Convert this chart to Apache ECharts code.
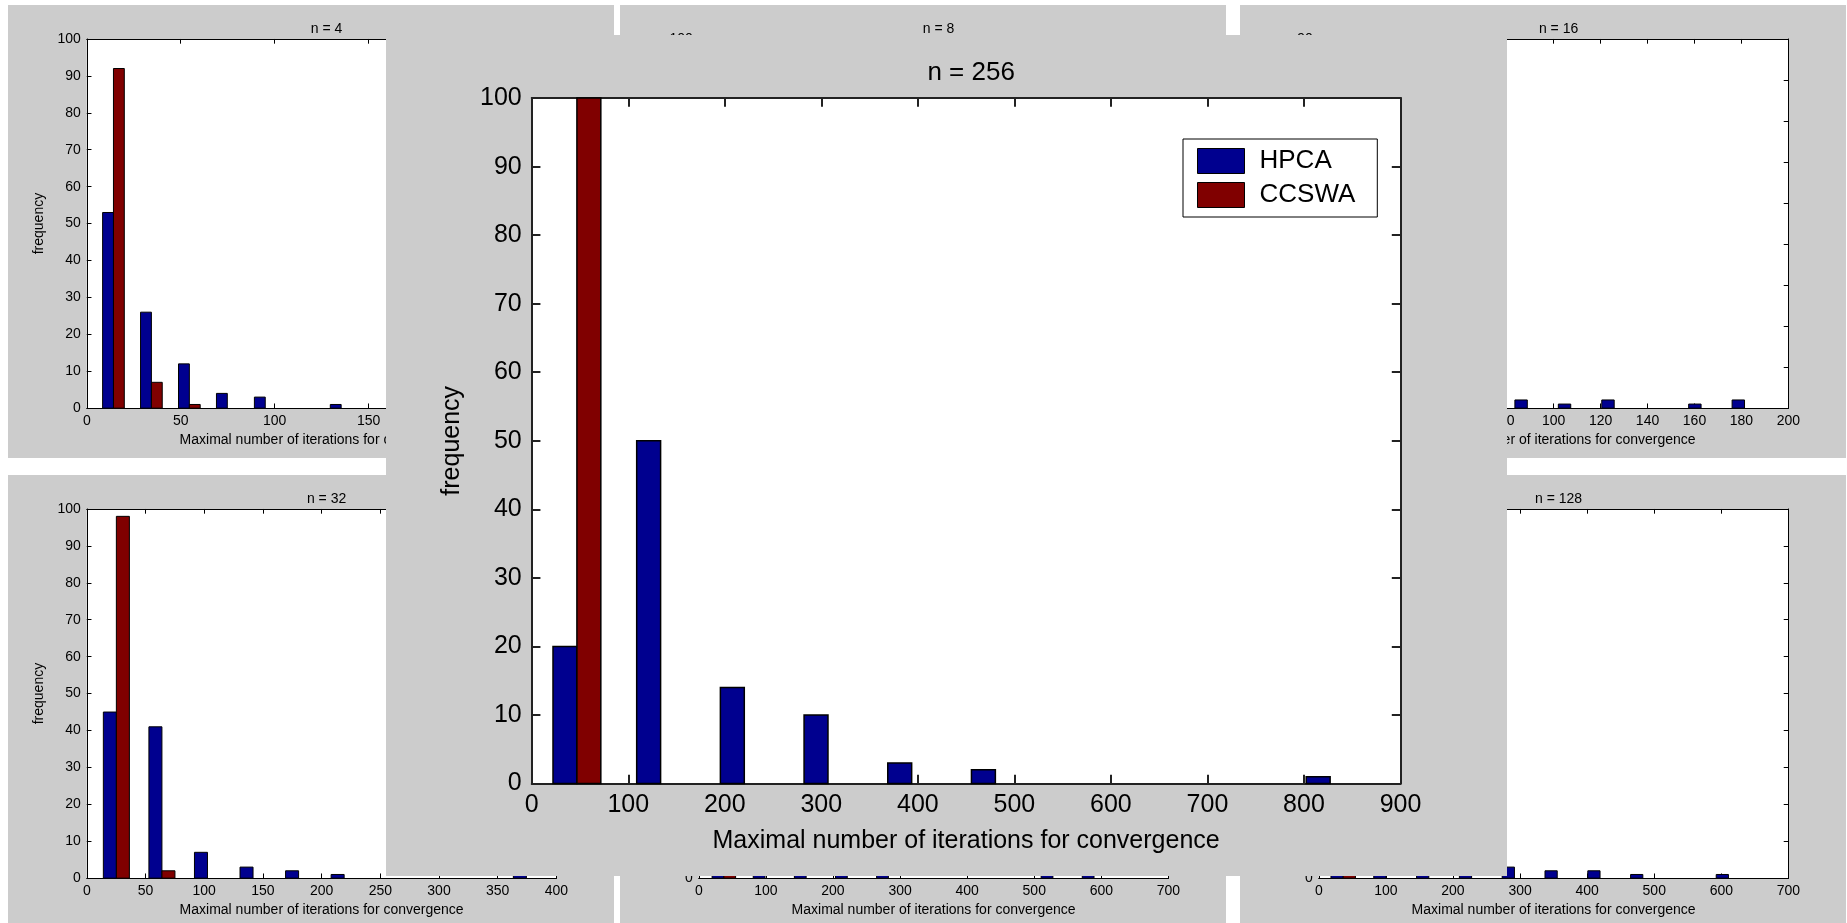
<!DOCTYPE html>
<html>
<head>
<meta charset="utf-8">
<script src="https://cdn.jsdelivr.net/npm/echarts@6/dist/echarts.min.js"></script>
<style>
  html, body { margin: 0; padding: 0; background: #ffffff; width: 1847px; height: 923px; overflow: hidden; }
  .fig { position: absolute; background: #cccccc; }
</style>
</head>
<body>
<div id="f4"   class="fig" style="left:8px;top:5px;width:606px;height:453px;"></div>
<div id="f8"   class="fig" style="left:620px;top:5px;width:606px;height:453px;"></div>
<div id="f16"  class="fig" style="left:1240px;top:5px;width:606px;height:453px;"></div>
<div id="f32"  class="fig" style="left:8px;top:475px;width:606px;height:453px;"></div>
<div id="f64"  class="fig" style="left:620px;top:475px;width:606px;height:453px;"></div>
<div id="f128" class="fig" style="left:1240px;top:475px;width:606px;height:453px;"></div>
<div id="f256" class="fig" style="left:386px;top:35px;width:1121px;height:841px;z-index:2;"></div>
<script>
// Histogram bin centres and counts (100 runs per problem size n)
const seriesNames = ['HPCA', 'CCSWA'];
const xAxisName = 'Maximal number of iterations for convergence';
const yAxisName = 'frequency';

const n4Centers = [14.2, 34.4, 54.6, 74.8, 95.0, 115.2, 135.4, 155.6, 175.8, 196.0];
const n4Hpca    = [53, 26, 12, 4, 3, 0, 1, 0, 0, 1];
const n4Ccswa   = [92, 7, 1, 0, 0, 0, 0, 0, 0, 0];

const n8Centers = [16, 45, 74, 103, 132, 161, 190, 219, 248, 277];
const n8Hpca    = [48, 30, 11, 5, 3, 1, 1, 0, 0, 1];
const n8Ccswa   = [96, 4, 0, 0, 0, 0, 0, 0, 0, 0];

const n16Centers = [14.8, 33.3, 51.8, 70.3, 88.8, 107.3, 125.8, 144.3, 162.8, 181.3];
const n16Hpca    = [40, 33, 14, 5, 2, 1, 2, 0, 1, 2];
const n16Ccswa   = [86, 14, 0, 0, 0, 0, 0, 0, 0, 0];

const n32Centers = [25.2, 64.0, 102.8, 141.6, 180.4, 219.2, 258.0, 296.8, 335.6, 374.4];
const n32Hpca    = [45, 41, 7, 3, 2, 1, 0, 0, 0, 1];
const n32Ccswa   = [98, 2, 0, 0, 0, 0, 0, 0, 0, 0];

const n64Centers = [37.4, 98.7, 160.0, 221.3, 282.6, 343.9, 405.2, 466.5, 527.8, 589.1];
const n64Hpca    = [28, 44, 14, 7, 4, 0, 0, 0, 2, 1];
const n64Ccswa   = [100, 0, 0, 0, 0, 0, 0, 0, 0, 0];

const n128Centers = [36.4, 100.2, 164.0, 227.8, 291.6, 355.4, 419.2, 483.0, 546.8, 610.6];
const n128Hpca    = [25, 38, 18, 10, 3, 2, 2, 1, 0, 1];
const n128Ccswa   = [100, 0, 0, 0, 0, 0, 0, 0, 0, 0];

const n256Centers = [46.8, 133.5, 220.2, 306.9, 393.6, 480.3, 567.0, 653.7, 740.4, 827.1];
const n256Hpca    = [20, 50, 14, 10, 3, 2, 0, 0, 0, 1];
const n256Ccswa   = [100, 0, 0, 0, 0, 0, 0, 0, 0, 0];

const COLORS = ['#00008f', '#800000'];
const FONT = "'Liberation Sans', Arial, Helvetica, sans-serif";

// MATLAB-style grouped histogram bar: two bars side by side per bin
function groupedBar(centers, slot, color, lw) {
  const step = centers[1] - centers[0];
  const w = step * 2 / 7;
  const off = (slot === 0 ? -1 : 1) * step / 7;
  return function (params, api) {
    const v = api.value(1);
    if (!v) return null;
    const c = api.value(0) + off;
    const tl = api.coord([c - w / 2, v]);
    const br = api.coord([c + w / 2, 0]);
    return {
      type: 'rect',
      shape: { x: tl[0], y: tl[1], width: br[0] - tl[0], height: br[1] - tl[1] },
      style: { fill: color, stroke: '#000000', lineWidth: lw }
    };
  };
}

function buildOption(cfg) {
  const W = cfg.width, H = cfg.height, big = cfg.big;
  const fs = big ? 25 : 14;
  const tickLen = big ? 8.7 : 4.7;
  const axisW = big ? 2 : 1;
  const line = { color: big ? '#222222' : '#000000', width: axisW };
  const label = { color: '#000000', fontFamily: FONT, fontSize: fs };

  const gridLeft = 0.13 * W, gridRight = 0.095 * W, gridTop = 0.075 * H, gridBottom = 0.11 * H;

  const xBase = {
    type: 'value', min: 0, max: cfg.xMax, interval: cfg.xStep,
    axisLine: { show: true, onZero: false, lineStyle: line },
    axisTick: { show: true, inside: true, length: tickLen, lineStyle: line },
    splitLine: { show: false }
  };
  const yBase = {
    type: 'value', min: 0, max: cfg.yMax, interval: 10,
    axisLine: { show: true, onZero: false, lineStyle: line },
    axisTick: { show: true, inside: true, length: tickLen, lineStyle: line },
    splitLine: { show: false }
  };

  const opt = {
    animation: false,
    textStyle: { fontFamily: FONT },
    title: {
      text: cfg.title,
      left: gridLeft + (W - gridLeft - gridRight) / 2,
      top: big ? 20 : 12,
      textAlign: 'center',
      textStyle: { color: '#000000', fontFamily: FONT, fontSize: big ? 26 : 14, fontWeight: 'normal' }
    },
    grid: {
      left: gridLeft, right: gridRight, top: gridTop, bottom: gridBottom,
      show: true, backgroundColor: '#ffffff', borderWidth: 0
    },
    xAxis: [
      Object.assign({}, xBase, {
        position: 'bottom',
        axisLabel: Object.assign({}, label, { margin: big ? 9 : 6, showMinLabel: true, showMaxLabel: true }),
        name: xAxisName, nameLocation: 'middle', nameGap: big ? 45 : 25,
        nameTextStyle: Object.assign({}, label)
      }),
      Object.assign({}, xBase, { position: 'top', axisLabel: { show: false } })
    ],
    yAxis: [
      Object.assign({}, yBase, {
        position: 'left',
        axisLabel: Object.assign({}, label, { margin: big ? 10 : 6, showMinLabel: true, showMaxLabel: true }),
        name: yAxisName, nameLocation: 'middle', nameGap: big ? 67 : 36,
        nameTextStyle: Object.assign({}, label)
      }),
      Object.assign({}, yBase, { position: 'right', axisLabel: { show: false } })
    ],
    series: [cfg.hpca, cfg.ccswa].map(function (vals, k) {
      return {
        type: 'custom',
        name: seriesNames[k],
        xAxisIndex: 0, yAxisIndex: 0,
        itemStyle: { color: COLORS[k], borderColor: '#000000', borderWidth: 1 },
        renderItem: groupedBar(cfg.centers, k, COLORS[k], big ? 1.5 : 1),
        encode: { x: 0, y: 1 },
        data: cfg.centers.map(function (c, i) { return [c, vals[i]]; }),
        z: 3
      };
    })
  };

  if (big) {
    opt.legend = {
      orient: 'vertical',
      left: 797, top: 104,
      backgroundColor: '#ffffff', borderColor: '#000000', borderWidth: 1,
      padding: [9, 22, 9, 14],
      itemWidth: 47, itemHeight: 25, itemGap: 8,
      textStyle: { color: '#000000', fontFamily: FONT, fontSize: 26, lineHeight: 25, padding: [0, 0, 0, 10] },
      data: seriesNames.map(function (n, k) {
        return { name: n, icon: 'rect', itemStyle: { color: COLORS[k], borderColor: '#000000', borderWidth: 1 } };
      })
    };
  }
  return opt;
}

const panels = [
  { id: 'f4',   title: 'n = 4',   centers: n4Centers,   hpca: n4Hpca,   ccswa: n4Ccswa,   xMax: 250, xStep: 50,  yMax: 100 },
  { id: 'f8',   title: 'n = 8',   centers: n8Centers,   hpca: n8Hpca,   ccswa: n8Ccswa,   xMax: 300, xStep: 50,  yMax: 100 },
  { id: 'f16',  title: 'n = 16',  centers: n16Centers,  hpca: n16Hpca,  ccswa: n16Ccswa,  xMax: 200, xStep: 20,  yMax: 90 },
  { id: 'f32',  title: 'n = 32',  centers: n32Centers,  hpca: n32Hpca,  ccswa: n32Ccswa,  xMax: 400, xStep: 50,  yMax: 100 },
  { id: 'f64',  title: 'n = 64',  centers: n64Centers,  hpca: n64Hpca,  ccswa: n64Ccswa,  xMax: 700, xStep: 100, yMax: 100 },
  { id: 'f128', title: 'n = 128', centers: n128Centers, hpca: n128Hpca, ccswa: n128Ccswa, xMax: 700, xStep: 100, yMax: 100 },
  { id: 'f256', title: 'n = 256', centers: n256Centers, hpca: n256Hpca, ccswa: n256Ccswa, xMax: 900, xStep: 100, yMax: 100, big: true }
];

panels.forEach(function (p) {
  const el = document.getElementById(p.id);
  p.width = el.clientWidth;
  p.height = el.clientHeight;
  const chart = echarts.init(el, null, { renderer: 'canvas' });
  chart.setOption(buildOption(p));
});
</script>
</body>
</html>
